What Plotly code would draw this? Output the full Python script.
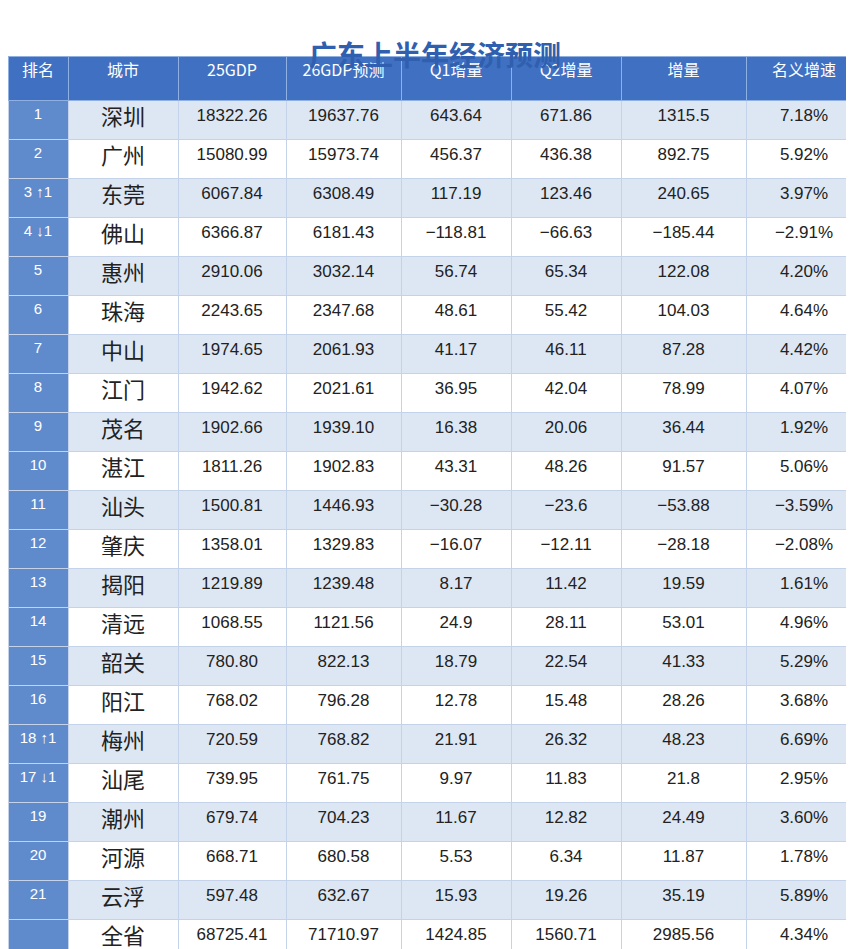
import plotly.graph_objects as go

ranks = ['1', '2', '3 ↑1', '4 ↓1', '5', '6', '7', '8', '9', '10', '11', '12', '13', '14', '15', '16',
         '18 ↑1', '17 ↓1', '19', '20', '21', '']
cities = ['深圳', '广州', '东莞', '佛山', '惠州', '珠海', '中山', '江门', '茂名', '湛江', '汕头', '肇庆',
          '揭阳', '清远', '韶关', '阳江', '梅州', '汕尾', '潮州', '河源', '云浮', '全省']
gdp25 = ['18322.26', '15080.99', '6067.84', '6366.87', '2910.06', '2243.65', '1974.65', '1942.62', '1902.66',
         '1811.26', '1500.81', '1358.01', '1219.89', '1068.55', '780.80', '768.02', '720.59', '739.95',
         '679.74', '668.71', '597.48', '68725.41']
gdp26 = ['19637.76', '15973.74', '6308.49', '6181.43', '3032.14', '2347.68', '2061.93', '2021.61', '1939.10',
         '1902.83', '1446.93', '1329.83', '1239.48', '1121.56', '822.13', '796.28', '768.82', '761.75',
         '704.23', '680.58', '632.67', '71710.97']
q1 = ['643.64', '456.37', '117.19', '−118.81', '56.74', '48.61', '41.17', '36.95', '16.38', '43.31', '−30.28',
      '−16.07', '8.17', '24.9', '18.79', '12.78', '21.91', '9.97', '11.67', '5.53', '15.93', '1424.85']
q2 = ['671.86', '436.38', '123.46', '−66.63', '65.34', '55.42', '46.11', '42.04', '20.06', '48.26', '−23.6',
      '−12.11', '11.42', '28.11', '22.54', '15.48', '26.32', '11.83', '12.82', '6.34', '19.26', '1560.71']
inc = ['1315.5', '892.75', '240.65', '−185.44', '122.08', '104.03', '87.28', '78.99', '36.44', '91.57', '−53.88',
       '−28.18', '19.59', '53.01', '41.33', '28.26', '48.23', '21.8', '24.49', '11.87', '35.19', '2985.56']
rate = ['7.18%', '5.92%', '3.97%', '−2.91%', '4.20%', '4.64%', '4.42%', '4.07%', '1.92%', '5.06%', '−3.59%',
        '−2.08%', '1.61%', '4.96%', '5.29%', '3.68%', '6.69%', '2.95%', '3.60%', '1.78%', '5.89%', '4.34%']
headers = ['排名', '城市', '25GDP', '26GDP预测', 'Q1增量', 'Q2增量', '增量', '名义增速']

n = len(cities)
stripe = ['#dde7f4' if i % 2 == 0 else '#ffffff' for i in range(n)]
stripe[-1] = '#ffffff'
first = ['#5f8bcd'] * n
num_font = 'Liberation Sans'

fig = go.Figure(go.Table(
    columnwidth=[60, 110, 108, 115, 110, 110, 125, 116],
    header=dict(values=headers, fill_color='#3f70c2', height=44,
                line=dict(color='#8fb0e0', width=1),
                font=dict(color='white', size=16, family='Noto Sans CJK SC'), align='center'),
    cells=dict(values=[ranks, cities, gdp25, gdp26, q1, q2, inc, rate],
               fill_color=[first] + [stripe] * 7, height=39,
               line=dict(color='#c5d3ea', width=1),
               font=dict(color=[['white'] * n] + [['#222222'] * n] * 7,
                         size=[15, 22, 17, 17, 17, 17, 17, 17],
                         family=[num_font, 'Noto Sans CJK SC'] + [num_font] * 6),
               align='center'),
    domain=dict(x=[0, 1], y=[0, 1]),
))

fig.update_layout(
    width=854, height=949,
    margin=dict(l=0, r=0, t=48, b=0),
    paper_bgcolor='white',
    annotations=[dict(text='<b>广东上半年经济预测</b>', x=0.5, y=1, xref='paper', yref='paper',
                      yshift=24, showarrow=False,
                      font=dict(size=28, color='#2f5fae', family='Noto Sans CJK SC'))],
)

fig.write_html('out.html')
